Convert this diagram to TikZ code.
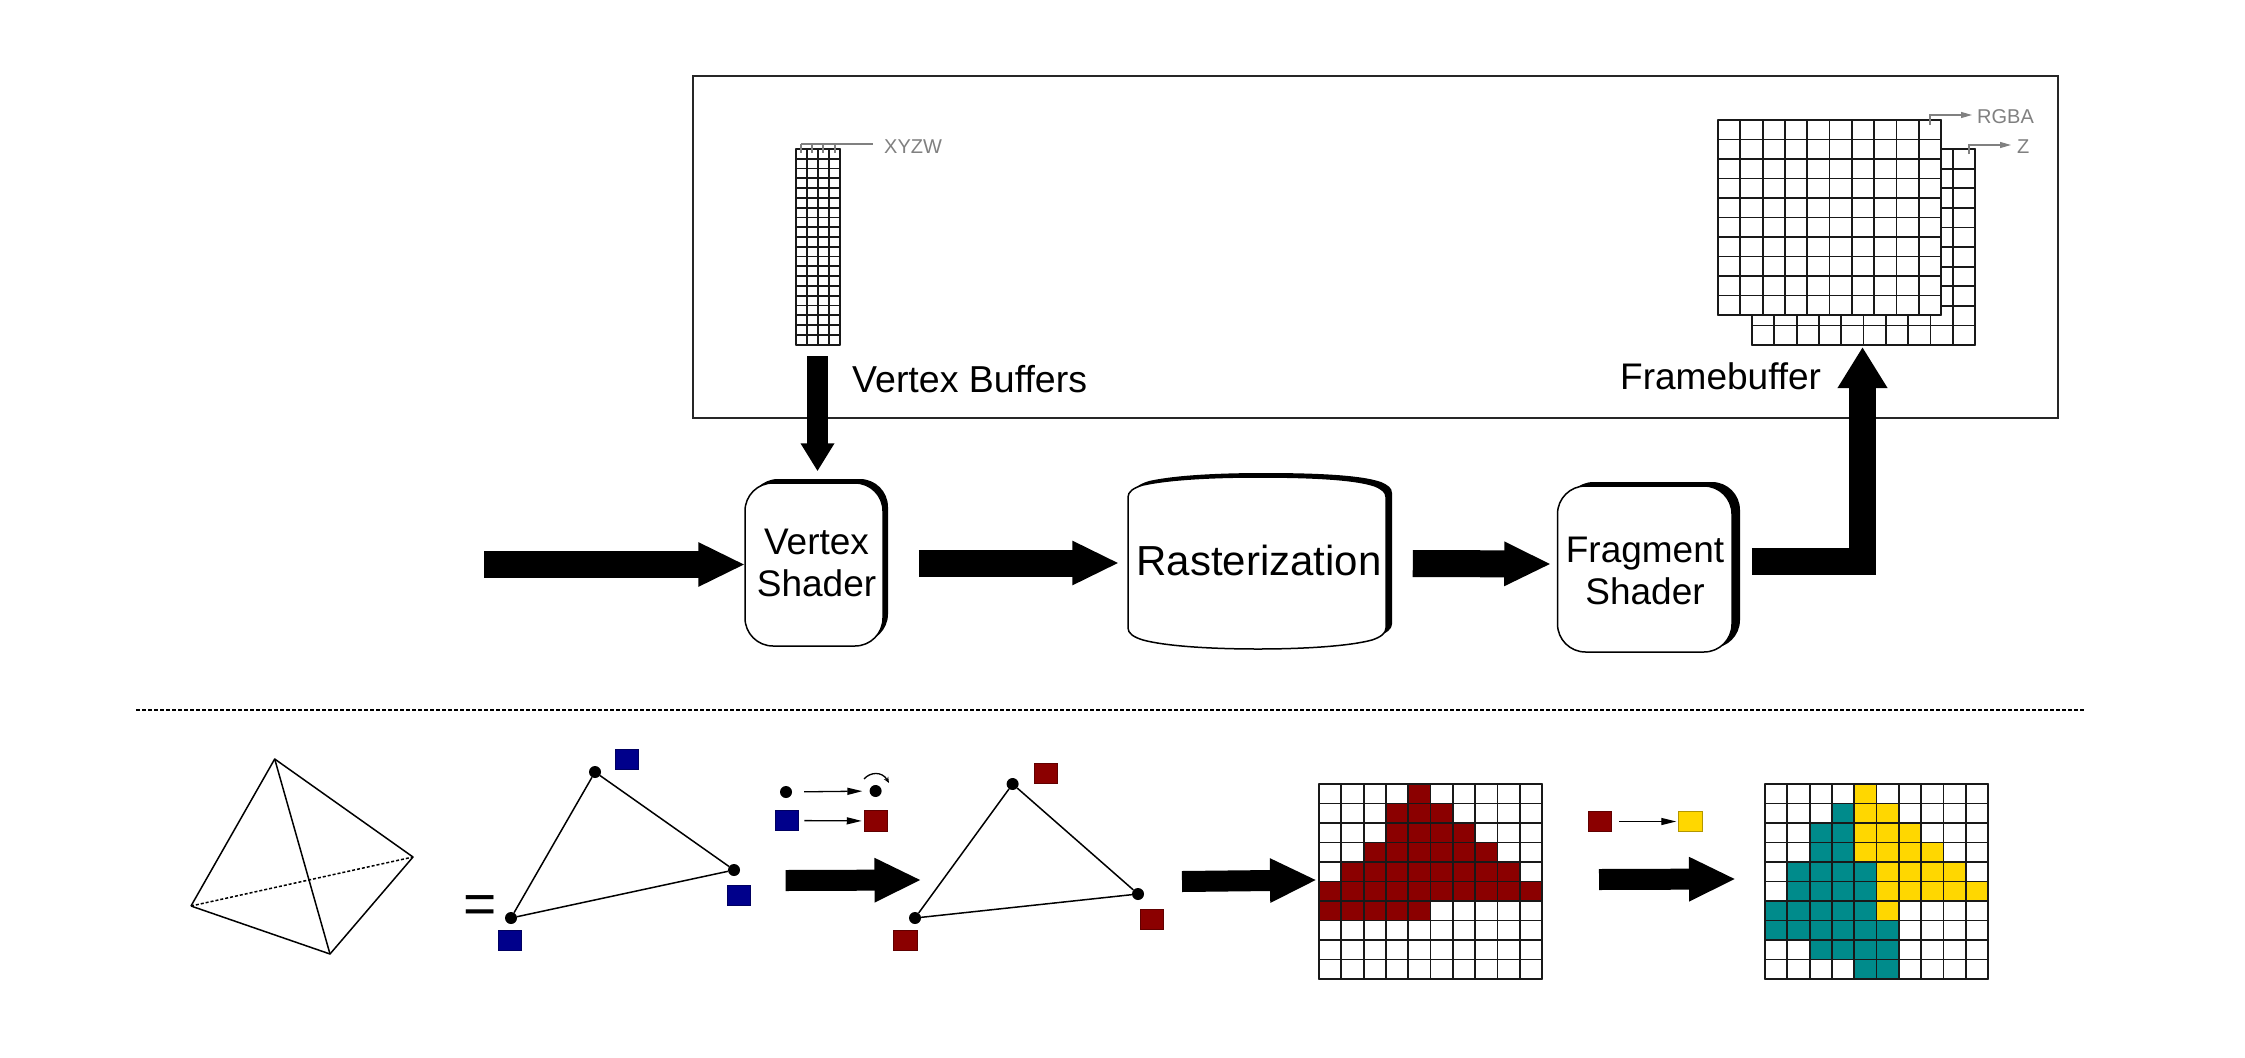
\documentclass[tikz,border=0pt]{standalone}
\usepackage{fontspec}
\setmainfont{Liberation Sans}
\usetikzlibrary{arrows.meta,calc,shadows}
\definecolor{vertexblue}{HTML}{00008B}
\definecolor{shadedred}{HTML}{8B0000}
\definecolor{depthteal}{HTML}{008B8B}
\definecolor{blendgold}{HTML}{FFD700}
\definecolor{notegray}{HTML}{808080}
\newcommand{\textat}[1]{\fontsize{#1}{#1}\selectfont}
% body of the rasterizer barrel
\newcommand{\rastpath}{(1128,497) .. controls (1128,492) and (1133,488) .. (1143,485) .. controls (1170,479) and (1215,477) .. (1258,477) .. controls (1310,477) and (1355,479) .. (1375,486) .. controls (1382,489) and (1386,492) .. (1386,497) -- (1386,628) .. controls (1386,633) and (1381,637) .. (1372,640) .. controls (1350,646) and (1305,649) .. (1258,649) .. controls (1210,649) and (1165,646) .. (1143,640) .. controls (1133,637) and (1128,633) .. (1128,628) -- cycle}
% cols, rows; used inside a scope whose unit is one cell
\newcommand{\makegrid}[2]{
	\foreach \i in {0,...,#1}
		\draw[gridline] (\i,0) -- (\i,#2);
	\foreach \j in {0,...,#2}
		\draw[gridline] (0,\j) -- (#1,\j);
}
% colour, then row/first/last
\newcommand{\makecells}[2]{
	\foreach \r/\a/\b in {#2}
		\foreach \c in {\a,...,\b}
			\fill[#1] (\c,\r) rectangle ++(1,1);
}
\tikzset{
	gridline/.style={line width=1.8pt,black!90,line cap=round},
	edge/.style={line width=1.5pt,black},
	notearrow/.style={line width=1.2pt,notegray,-{Triangle[length=11pt,width=6pt]}},
	thinarrow/.style={line width=1.3pt,black,-{Triangle[length=15pt,width=7pt]}},
	fatarrow/.style={line width=#1,black,-{Triangle[length=47pt,width=41pt]}},
	shaderbox/.style={draw=black,line width=1.5pt,fill=white,rounded corners=28pt,inner sep=0pt},
	boxtext/.style={inner sep=0pt,align=center,font=\textat{37},text=black},
	bigtext/.style={inner sep=0pt,anchor=base west,font=\textat{37.5}},
	notetext/.style={inner sep=0pt,anchor=base west,font=\textat{20},text=notegray},
	vertexdot/.style={circle,fill=black,minimum size=12pt,inner sep=0pt},
	attrsq/.style={rectangle,fill=#1,draw=#1!70!black,line width=1pt,minimum width=23.5pt,minimum height=20.5pt,inner sep=0pt},
}

\begin{document}
\begin{tikzpicture}[x=1pt,y=-1pt]
	\useasboundingbox (0,0) rectangle (2245,1057);

	% memory box
	\draw[line width=1.6pt,black!85] (693,76) rectangle (2058,418);

	\begin{scope}[shift={(796,149)},x=11pt,y=-9.78pt]
		\makegrid{4}{20}
	\end{scope}
	\begin{scope}[shift={(1752,149)},x=22.3pt,y=-19.6pt]
		\makegrid{10}{10}
	\end{scope}
	\fill[white] (1718,120) rectangle (1941,315);
	\begin{scope}[shift={(1718,120)},x=22.3pt,y=-19.5pt]
		\makegrid{10}{10}
	\end{scope}

	% small notes over the buffers
	\coordinate (xyzwend) at (873,144);
	\foreach \x in {801,812,823,835}
		\draw[line width=1.2pt,notegray] (\x,144) -- (\x,153);
	\draw[line width=1.2pt,notegray] (801,144) -- (xyzwend);
	\node[notetext] (xyzw) at (884,153) {XYZW};
	\node[notetext] (rgba) at (1977,123) {RGBA};
	\node[notetext] (zlabel) at (2017,153) {Z};
	\coordinate (rgbafoot) at (1930,125);
	\coordinate (zfoot) at (1969,154);
	\draw[notearrow] (rgbafoot) |- (1972,115);
	\draw[notearrow] (zfoot) |- (2011,145);

	\node[bigtext] (vblabel) at (852,392) {Vertex Buffers};
	\node[bigtext,font=\textat{37}] (fblabel) at (1620,389) {Framebuffer};

	% pipeline stages
	\node[shaderbox,general shadow={fill=black,shadow xshift=5pt,shadow yshift=4pt},minimum width=138pt,minimum height=163pt] (vs) at (814,564.5) {};
	\node[boxtext] (vstext) at (816.5,563) {Vertex\\[5pt]Shader};
	\fill[black,shift={(6,-4)}] \rastpath;
	\filldraw[fill=white,draw=black,line width=1.5pt] \rastpath;
	\node[boxtext,font=\textat{42}] (rast) at (1259,560) {Rasterization};
	\node[shaderbox,general shadow={fill=black,shadow xshift=8pt,shadow yshift=4pt},minimum width=174.5pt,minimum height=166pt] (fs) at (1644.75,569) {};
	\node[boxtext] (fstext) at (1645,571) {Fragment\\[5pt]Shader};

	\coordinate (input) at (484,564.5);
	\coordinate (vbout) at (817.5,356);
	\coordinate (fbin) at (1862.5,347);
	\draw[fatarrow=27pt] (input) -- ([xshift=1pt]vs.west);
	\draw[fatarrow=27pt] ([xshift=35pt,yshift=1.5pt]vs.east) -- ([xshift=-17pt,yshift=-3pt]rast.west);
	\draw[fatarrow=27pt] ([xshift=31pt,yshift=-3.5pt]rast.east) -- ([xshift=-5.5pt,yshift=5pt]fs.west);
	\draw[line width=21pt,-{Triangle[length=28pt,width=32pt]}] (vbout) -- ([xshift=3.5pt,yshift=11pt]vs.north);
	\draw[line width=27pt,-{Triangle[length=41pt,width=47pt]}] ([xshift=19pt,yshift=7.5pt]fs.east) -| (fbin);

	\draw[line width=2pt,dash pattern=on 3.5pt off 2.5pt] (136,710) -- (2085,710);

	% tetrahedron
	\coordinate (ta) at (274.7,759);
	\coordinate (tb) at (413,857);
	\coordinate (tc) at (330,954);
	\coordinate (td) at (191,906);
	\draw[edge,line join=round] (td) -- (ta) -- (tb) -- (tc) -- (td);
	\draw[edge] (ta) -- (tc);
	\draw[line width=1.5pt,dash pattern=on 3pt off 2pt] (td) -- (tb);
	\node[inner sep=0pt,anchor=base,font=\textat{57}] (equals) at (480,923) {=};

	% first triangle, colours per vertex
	\node[vertexdot] (pa) at (595,772) {};
	\node[vertexdot] (pb) at (734,870) {};
	\node[vertexdot] (pc) at (511,918) {};
	\draw[edge] (pa) -- (pb) -- (pc) -- (pa);
	\node[attrsq=vertexblue] (sqa) at (627,759.5) {};
	\node[attrsq=vertexblue] (sqb) at (739,895.5) {};
	\node[attrsq=vertexblue] (sqc) at (510,940.5) {};

	% vertex shader legend
	\node[vertexdot] (ldota) at (786,792) {};
	\node[vertexdot] (ldotb) at (875.6,791) {};
	\draw[thinarrow,shorten <=12pt,shorten >=7pt] (ldota) -- (ldotb);
	\draw[line width=1.3pt,-{Stealth[length=6pt,width=5pt]}] (864,779) .. controls (870,772) and (882,771) .. (889,783);
	\node[attrsq=vertexblue] (lsqa) at (787,820.5) {};
	\node[attrsq=shadedred] (lsqb) at (876,821) {};
	\draw[thinarrow,shorten <=5pt,shorten >=2pt] (lsqa) -- (lsqb);
	\coordinate (geomin) at (785.6,880.5);
	\coordinate (geomtip) at (921.5,880);
	\draw[fatarrow=21pt] (geomin) -- (geomtip);

	% second triangle
	\node[vertexdot] (qa) at (1012.6,784) {};
	\node[vertexdot] (qb) at (1138,894) {};
	\node[vertexdot] (qc) at (915,918) {};
	\draw[edge] (qa) -- (qb) -- (qc) -- (qa);
	\node[attrsq=shadedred] (ssqa) at (1046,773.5) {};
	\node[attrsq=shadedred] (ssqb) at (1152,919.5) {};
	\node[attrsq=shadedred] (ssqc) at (905.5,940.5) {};
	\coordinate (rastin) at (1182,881.5);
	\coordinate (rasttip) at (1317,880);
	\draw[fatarrow=21pt] (rastin) -- (rasttip);

	% fragments before shading
	\begin{scope}[shift={(1319,784)},x=22.3pt,y=-19.5pt]
		\makecells{shadedred}{0/4/4,1/3/5,2/3/6,3/2/7,4/1/8,5/0/9,6/0/4}
		\makegrid{10}{10}
	\end{scope}

	% fragment shader legend
	\node[attrsq=shadedred] (fsqa) at (1600,821.5) {};
	\node[attrsq=blendgold] (fsqb) at (1690.5,821.5) {};
	\draw[thinarrow,shorten <=7pt,shorten >=2pt] (fsqa) -- (fsqb);
	\coordinate (fragin) at (1599,879.5);
	\coordinate (fragtip) at (1736,879);
	\draw[fatarrow=21pt] (fragin) -- (fragtip);

	% fragments after shading
	\begin{scope}[shift={(1765,784)},x=22.3pt,y=-19.5pt]
		\makecells{depthteal}{1/3/3,2/2/3,3/2/3,4/1/4,5/1/4,6/0/4,7/0/5,8/2/5,9/4/5}
		\makecells{blendgold}{0/4/4,1/4/5,2/4/6,3/4/7,4/5/8,5/5/9,6/5/5}
		\makegrid{10}{10}
	\end{scope}
\end{tikzpicture}
\end{document}
